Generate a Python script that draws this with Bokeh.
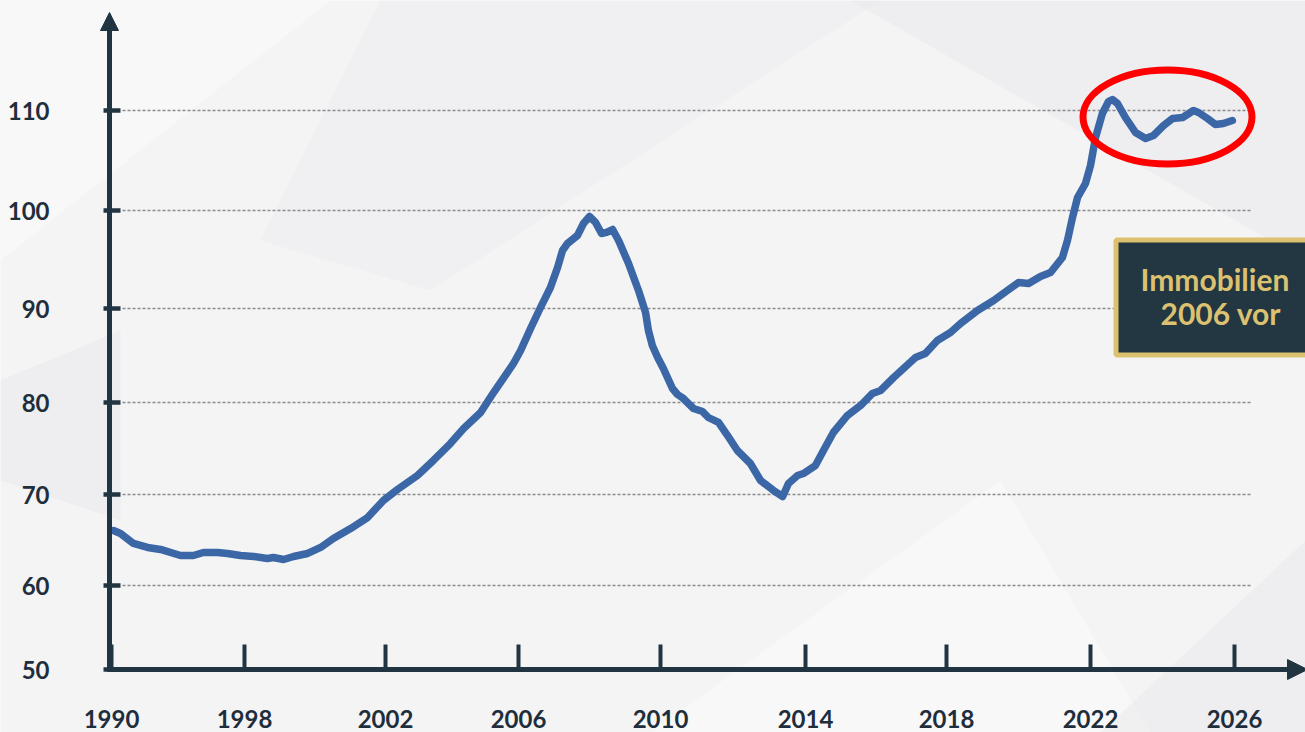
import numpy as np
from bokeh.plotting import figure
from bokeh.models import FixedTicker, Arrow, NormalHead, Label, BoxAnnotation
from bokeh.embed import file_html
from bokeh.resources import INLINE

# ---------------- data ----------------
years = [1990.12, 1990.54, 1991.32, 1992.17, 1992.95, 1994.15, 1994.93, 1995.53, 1996.38, 1996.98,
         1997.76, 1998.26, 1998.65, 1998.82, 1999.11, 1999.39, 1999.79, 2000.16, 2000.52, 2001.01,
         2001.49, 2001.94, 2002.36, 2002.96, 2003.44, 2003.95, 2004.35, 2004.86, 2005.25, 2005.85,
         2006.06, 2006.34, 2006.62, 2006.90, 2007.10, 2007.24, 2007.38, 2007.66, 2007.83, 2008.00,
         2008.17, 2008.34, 2008.48, 2008.65, 2008.82, 2009.10, 2009.38, 2009.58, 2009.66, 2009.77,
         2009.92, 2010.08, 2010.33, 2010.47, 2010.63, 2010.91, 2011.16, 2011.32, 2011.60, 2011.85,
         2012.12, 2012.48, 2012.76, 2013.12, 2013.37, 2013.53, 2013.78, 2013.94, 2014.28, 2014.51,
         2014.79, 2015.19, 2015.56, 2015.90, 2016.13, 2016.50, 2016.78, 2017.12, 2017.40, 2017.74,
         2018.11, 2018.39, 2018.86, 2019.31, 2019.69, 2020.00, 2020.28, 2020.61, 2020.89, 2021.22,
         2021.36, 2021.50, 2021.64, 2021.86, 2022.00, 2022.14, 2022.33, 2022.50, 2022.61, 2022.75,
         2022.97, 2023.25, 2023.53, 2023.75, 2024.03, 2024.28, 2024.56, 2024.86, 2025.00, 2025.25,
         2025.47, 2025.69, 2025.94]
index = [66.04, 65.71, 64.62, 64.18, 63.96, 63.30, 63.30, 63.63, 63.63, 63.52,
         63.30, 63.19, 62.97, 63.08, 62.86, 63.19, 63.52, 64.18, 65.16, 66.26,
         67.47, 69.34, 70.54, 72.07, 73.70, 75.54, 77.17, 78.91, 81.06, 84.15,
         85.53, 87.87, 90.10, 92.14, 94.18, 95.92, 96.63, 97.45, 98.67, 99.39,
         98.78, 97.65, 97.76, 98.06, 96.94, 94.59, 91.84, 89.57, 87.66, 86.06,
         84.79, 83.62, 81.49, 80.85, 80.43, 79.35, 79.02, 78.37, 77.83, 76.41,
         74.78, 73.37, 71.52, 70.43, 69.78, 71.20, 72.07, 72.28, 73.15, 74.78,
         76.74, 78.59, 79.67, 80.96, 81.28, 82.66, 83.62, 84.79, 85.21, 86.60,
         87.45, 88.40, 89.79, 90.82, 91.84, 92.65, 92.55, 93.27, 93.67, 95.20,
         96.94, 99.29, 101.3, 102.7, 104.5, 107.3, 109.7, 110.9, 111.1, 110.7,
         109.3, 107.8, 107.2, 107.5, 108.5, 109.2, 109.3, 110.0, 109.8, 109.2,
         108.6, 108.7, 109.0]

x_tick_years = [1990, 1998, 2002, 2006, 2010, 2014, 2018, 2022, 2026]
x_tick_labels = ["1990", "1998", "2002", "2006", "2010", "2014", "2018", "2022", "2026"]
y_tick_values = [50, 60, 70, 80, 90, 100, 110]
y_tick_labels = ["50", "60", "70", "80", "90", "100", "110"]
grid_values = [60, 70, 80, 90, 100, 110]
box_lines = ["Immobilien", "2006 vor"]

# ---------------- the chart's own (uneven) axis scales ----------------
W, H = 1305, 732
X_POS = [111, 244, 385, 518, 660, 805, 946, 1090, 1234]      # screen position of each year tick
Y_SCALE_VALS = [50, 60, 70, 80, 90, 100, 110, 120]
Y_SCALE_POS = [63, 147, 238, 330, 424, 522, 622, 722]       # screen position of each value


def sx(v):
    return np.interp(v, x_tick_years, X_POS)


def sy(v):
    return np.interp(v, Y_SCALE_VALS, Y_SCALE_POS)


def Y(py):  # layout helper: pixel row -> plot coordinate
    return H - py


Y_POS = [int(round(float(sy(v)))) for v in y_tick_values]

AX = "#213441"
LABEL = "#1f2e3c"
LINE = "#3b67a6"
GOLD = "#dcc171"
DARK = "#223741"
BG = "#f4f4f5"

p = figure(width=W, height=H, x_range=(0, W), y_range=(0, H),
           output_backend="svg", toolbar_location=None, min_border=0,
           background_fill_color=BG, border_fill_color=BG,
           outline_line_color=None)

# faint faceted background
bg_xs = [[0, 330, 0], [380, 880, 430, 260], [850, 1305, 1305], [650, 1000, 1150],
         [1100, 1305, 1305], [0, 120, 120, 0]]
bg_ys = [[Y(0), Y(0), Y(260)], [Y(0), Y(0), Y(290), Y(240)], [Y(0), Y(0), Y(260)],
         [Y(732), Y(480), Y(732)], [Y(732), Y(540), Y(732)], [Y(380), Y(330), Y(520), Y(480)]]
bg_col = ["#fbfbfb", "#ececee", "#e9e9eb", "#fbfbfb", "#e9e9eb", "#e9e9eb"]
p.patches(bg_xs, bg_ys, fill_color=bg_col, fill_alpha=0.55, line_color=None)

# dotted grid lines
gy = sy(np.array(grid_values))
p.segment(x0=[122] * len(gy), y0=gy, x1=[1252] * len(gy), y1=gy,
          line_color="#8a8a8c", line_width=1.3, line_dash="3 2")

# data line
p.line(sx(np.array(years)), sy(np.array(index)), line_color=LINE, line_width=7.5,
       line_join="round", line_cap="round")

# axes
p.xgrid.visible = False
p.ygrid.visible = False
xa = p.xaxis[0]
ya = p.yaxis[0]
xa.fixed_location = float(sy(50))
ya.fixed_location = 109
xa.ticker = FixedTicker(ticks=X_POS)
ya.ticker = FixedTicker(ticks=Y_POS)
xa.major_label_overrides = {int(k): v for k, v in zip(X_POS, x_tick_labels)}
ya.major_label_overrides = {int(k): v for k, v in zip(Y_POS, y_tick_labels)}
for a in (xa, ya):
    a.axis_line_color = None
    a.minor_tick_line_color = None
    a.major_tick_line_color = AX
    a.major_label_text_font = "Lato"
    a.major_label_text_font_style = "bold"
    a.major_label_text_font_size = "24px"
    a.major_label_text_color = LABEL
xa.major_tick_in = 25
xa.major_tick_out = 0
xa.major_tick_line_width = 4
xa.major_label_standoff = 40
ya.major_tick_in = 11
ya.major_tick_out = 6
ya.major_tick_line_width = 4.5
ya.major_label_standoff = 54

# axis lines with arrow heads
p.add_layout(Arrow(end=NormalHead(size=18, fill_color=AX, line_color=AX),
                   x_start=109, y_start=float(sy(50)) - 2, x_end=109, y_end=Y(12),
                   line_color=AX, line_width=5))
p.add_layout(Arrow(end=NormalHead(size=20, fill_color=AX, line_color=AX),
                   x_start=107, y_start=float(sy(50)), x_end=1307, y_end=float(sy(50)),
                   line_color=AX, line_width=5))

# red highlight ellipse
p.ellipse(x=[1167], y=[Y(116.5)], width=[169], height=[94], fill_color=None,
          line_color="#ff0000", line_width=7)

# dark info box
p.add_layout(BoxAnnotation(left=1115.5, right=1340, top=Y(239.5), bottom=Y(354.5),
                           fill_color=DARK, fill_alpha=1, line_color=GOLD, line_width=5,
                           line_alpha=1))
p.add_layout(Label(x=1140, y=Y(278), text=box_lines[0], text_font="Lato", text_font_style="bold",
                   text_font_size="30px", text_color=GOLD, text_baseline="middle"))
p.add_layout(Label(x=1160, y=Y(312), text=box_lines[1], text_font="Lato", text_font_style="bold",
                   text_font_size="30px", text_color=GOLD, text_baseline="middle"))

open("out.html", "w").write(file_html(p, INLINE))
